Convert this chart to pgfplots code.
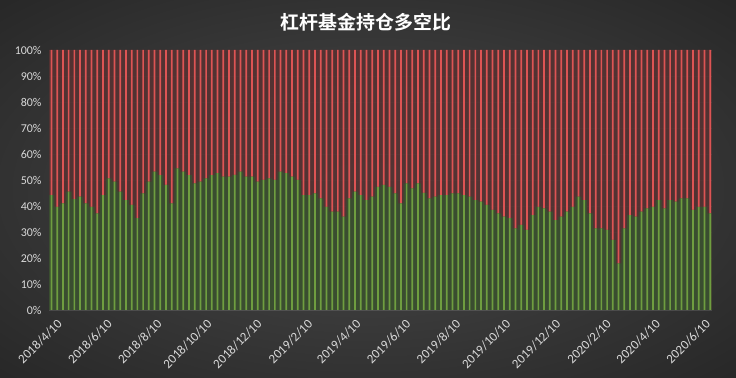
\documentclass[border=0pt]{standalone}
\usepackage{pgfplots}
\pgfplotsset{compat=1.18}
\usepackage{pgfplotstable}
\usepackage{fontspec}
\setmainfont{Carlito}
\newfontfamily\cjk{Noto Sans CJK SC}[BoldFont={Noto Sans CJK SC Bold}]
\definecolor{bgin}{HTML}{4A4A4A}
\definecolor{bgout}{HTML}{272727}
\definecolor{gbright}{HTML}{6F9E40}
\definecolor{gdark}{HTML}{3A4D30}
\definecolor{rbright}{HTML}{DD5454}
\definecolor{rdark}{HTML}{553232}
\definecolor{lbl}{HTML}{D9D9D9}
\pgfdeclareradialshading{bgshade}{\pgfpoint{0bp}{0bp}}{color(0bp)=(bgin); color(36bp)=(bgout); color(50bp)=(bgout)}
\pgfplotstableread{
day long all
0 44.2 100
7 39.7 100
14 41.0 100
21 45.5 100
28 42.6 100
35 43.6 100
42 41.0 100
49 39.7 100
56 37.2 100
63 44.2 100
70 50.6 100
77 49.4 100
84 45.5 100
91 42.3 100
98 40.4 100
105 35.3 100
112 44.9 100
119 49.4 100
126 53.2 100
133 51.9 100
140 48.1 100
147 41.0 100
154 54.5 100
161 53.2 100
168 51.9 100
175 48.7 100
182 49.4 100
189 50.6 100
196 51.9 100
203 52.6 100
210 51.3 100
217 51.3 100
224 52.0 100
231 53.2 100
238 51.3 100
245 51.3 100
252 49.4 100
259 50.0 100
266 50.6 100
273 50.0 100
280 53.2 100
287 52.6 100
294 51.3 100
301 50.0 100
308 44.2 100
315 44.2 100
322 44.9 100
329 42.9 100
336 39.7 100
343 37.8 100
350 37.8 100
357 35.9 100
364 42.9 100
371 45.5 100
378 44.2 100
385 42.3 100
392 43.6 100
399 47.4 100
406 48.1 100
413 47.4 100
420 44.9 100
427 41.0 100
434 48.7 100
441 46.8 100
448 48.7 100
455 45.0 100
462 42.9 100
469 43.6 100
476 44.2 100
483 44.2 100
490 44.9 100
497 44.9 100
504 44.2 100
511 43.6 100
518 42.3 100
525 41.7 100
532 40.4 100
539 38.5 100
546 37.2 100
553 35.9 100
560 35.3 100
567 31.4 100
574 32.7 100
581 30.8 100
588 36.5 100
595 39.7 100
602 39.1 100
609 37.8 100
616 34.6 100
623 35.9 100
630 37.8 100
637 39.7 100
644 43.6 100
651 42.3 100
658 37.2 100
665 31.4 100
672 31.4 100
679 30.8 100
686 27.0 100
693 17.9 100
700 31.4 100
707 36.5 100
714 35.9 100
721 37.8 100
728 39.1 100
735 39.7 100
742 42.3 100
749 39.1 100
756 42.3 100
763 41.7 100
770 42.9 100
777 42.9 100
784 38.5 100
791 39.7 100
798 39.7 100
805 37.2 100
}\data
\begin{document}
\begin{tikzpicture}
\shade[shading=bgshade] (0,0) rectangle (736bp,378bp);
\node[text=white, font=\cjk\bfseries\fontsize{19}{22}\selectfont] at (366bp,356bp) {杠杆基金持仓多空比};
\begin{axis}[
  at={(49bp,68bp)}, anchor=south west, scale only axis,
  width=662.7bp, height=260bp,
  xmin=-3, xmax=806.8, ymin=0, ymax=100,
  axis x line=bottom, axis y line=left,
  x axis line style={draw=none},
  y axis line style={draw=none},
  major tick length=0pt,
  ytick={0,10,...,100},
  yticklabel={\pgfmathprintnumber{\tick}\%},
  /pgf/number format/assume math mode=true,
  yticklabel style={text=lbl, font=\fontsize{12}{14}\selectfont, xshift=-4bp},
  xtick={0,61,122,183,244,306,365,426,487,548,609,671,731,792},
  xticklabels={2018/4/10,2018/6/10,2018/8/10,2018/10/10,2018/12/10,2019/2/10,2019/4/10,2019/6/10,2019/8/10,2019/10/10,2019/12/10,2020/2/10,2020/4/10,2020/6/10},
  xticklabel style={rotate=45, anchor=north east, text=lbl, font=\fontsize{13}{15}\selectfont, yshift=-6bp, xshift=1bp},
  ymajorgrids, grid style={white, opacity=0.12, line width=0.6pt},
]
\addplot[ybar, bar width=7.3, bar shift=0pt, fill=rdark, fill opacity=0.9, draw=none] table[x=day, y=all] {\data};
\addplot[ybar, bar width=2.1, bar shift=0pt, fill=rbright, draw=none] table[x=day, y=all] {\data};
\addplot[ybar, bar width=7.3, bar shift=0pt, fill=gdark, draw=none] table[x=day, y=long] {\data};
\addplot[ybar, bar width=2.1, bar shift=0pt, fill=gbright, draw=none] table[x=day, y=long] {\data};
\draw[lbl, line width=0.8pt] (rel axis cs:0,0) -- (rel axis cs:1,0);
\end{axis}
\end{tikzpicture}
\end{document}
